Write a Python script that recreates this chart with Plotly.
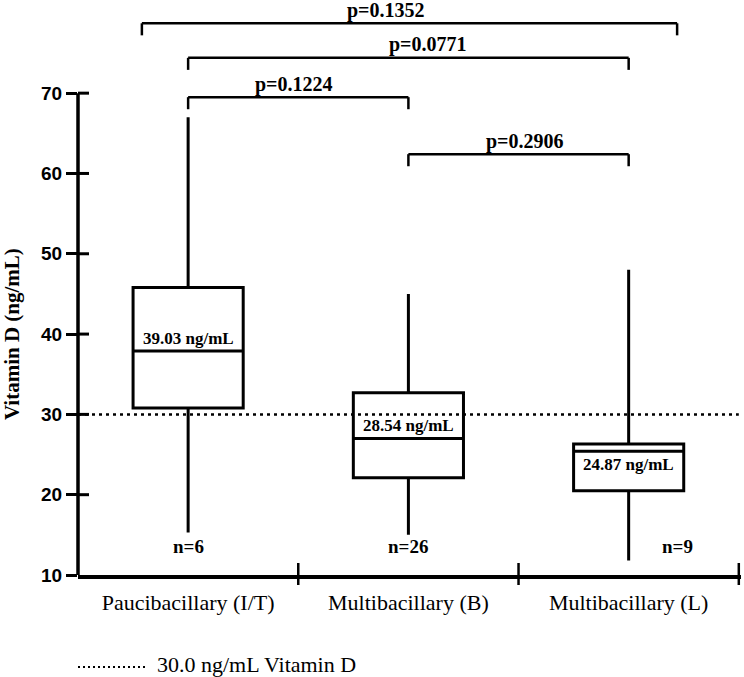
import plotly.graph_objects as go

# ---- data ----
categories = ["Paucibacillary (I/T)", "Multibacillary (B)", "Multibacillary (L)"]
q1 = [30.8, 22.1, 20.5]
medians = [37.9, 27.0, 25.4]
q3 = [45.8, 32.7, 26.3]
lower_whisker = [15.3, 15.0, 11.8]
upper_whisker = [67.0, 45.0, 48.0]
mean_labels = ["39.03 ng/mL", "28.54 ng/mL", "24.87 ng/mL"]
n_labels = ["n=6", "n=26", "n=9"]
threshold = 30.0
y_ticks = [10, 20, 30, 40, 50, 60, 70]

p_labels = ["p=0.1224", "p=0.0771", "p=0.1352", "p=0.2906"]
bracket_from = [0, 0, -0.21, 1]
bracket_to = [1, 2, 2.22, 2]
bracket_level = [69.5, 74.4, 78.7, 62.4]
p_label_x = [0.48, 1.09, 0.9, 1.53]

# ---- style ----
SERIF = "Liberation Serif"
SANS = "Liberation Sans"
BLACK = "black"
xpos = list(range(len(categories)))
XMAX = len(categories) - 0.5 + 0.01
YTOP = 81.6

fig = go.Figure()
fig.add_trace(go.Box(
    x=xpos, q1=q1, median=medians, q3=q3,
    lowerfence=lower_whisker, upperfence=upper_whisker,
    fillcolor="white", line=dict(color=BLACK, width=3),
    width=0.5, whiskerwidth=0, boxpoints=False, showlegend=False,
    hoverinfo="skip",
))

shapes = []
annotations = []

# y-axis line (10..70) and inner tick halves
shapes.append(dict(type="line", xref="paper", yref="y", x0=0, x1=0,
                   y0=y_ticks[0], y1=y_ticks[-1], line=dict(color=BLACK, width=3.5)))
for t in y_ticks[1:]:
    shapes.append(dict(type="line", xref="paper", yref="y", x0=0, x1=11 / 663,
                       y0=t, y1=t, line=dict(color=BLACK, width=3)))

# x-axis boundary ticks crossing the axis
for i in range(1, len(categories) + 1):
    b = i - 0.5
    shapes.append(dict(type="line", xref="x", yref="paper", x0=b, x1=b,
                       y0=-10 / 575, y1=12 / 575, line=dict(color=BLACK, width=2.5)))

# threshold dotted line
shapes.append(dict(type="line", xref="x", yref="y", x0=-0.5, x1=len(categories) - 0.5,
                   y0=threshold, y1=threshold,
                   line=dict(color=BLACK, width=2.5, dash="3px,4px")))

# significance brackets
drop = 1.5
for lab, a, b, lv, lx in zip(p_labels, bracket_from, bracket_to, bracket_level, p_label_x):
    for (x0, y0, x1, y1) in [(a, lv - drop, a, lv), (a, lv, b, lv), (b, lv, b, lv - drop)]:
        shapes.append(dict(type="line", xref="x", yref="y", x0=x0, x1=x1, y0=y0, y1=y1,
                           line=dict(color=BLACK, width=2.5)))
    annotations.append(dict(x=lx, y=lv, xref="x", yref="y", text=lab, showarrow=False,
                            yanchor="middle", yshift=13,
                            font=dict(family=SERIF, size=20, color=BLACK, weight="bold")))

# mean labels
for i, (lab, med) in enumerate(zip(mean_labels, medians)):
    above = i < 2
    annotations.append(dict(x=i, y=med, xref="x", yref="y", text=lab, showarrow=False,
                            yanchor="bottom" if above else "top",
                            yshift=1 if above else -2,
                            font=dict(family=SERIF, size=17, color=BLACK, weight="bold")))

# n labels
n_dx = [0, 0, 0.22]
for i, lab in enumerate(n_labels):
    annotations.append(dict(x=i + n_dx[i], y=13.5, xref="x", yref="y", text=lab,
                            showarrow=False,
                            font=dict(family=SERIF, size=19, color=BLACK, weight="bold")))

# y-axis title
annotations.append(dict(x=-66 / 663, y=40, xref="paper", yref="y", text="Vitamin D (ng/mL)",
                        textangle=-90, showarrow=False, xanchor="center", yanchor="middle",
                        font=dict(family=SERIF, size=21, color=BLACK, weight="bold")))

# legend for dotted line
shapes.append(dict(type="line", xref="paper", yref="paper", x0=0, x1=70 / 663,
                   y0=-92 / 575, y1=-92 / 575,
                   line=dict(color=BLACK, width=2, dash="2px,3px")))
annotations.append(dict(x=77 / 663, y=-89 / 575, xref="paper", yref="paper",
                        text=f"{threshold:.1f} ng/mL Vitamin D", showarrow=False,
                        xanchor="left", yanchor="middle",
                        font=dict(family=SERIF, size=22, color=BLACK)))

fig.update_layout(
    width=744, height=677,
    margin=dict(l=78, r=3, t=0, b=102),
    paper_bgcolor="white", plot_bgcolor="white",
    shapes=shapes, annotations=annotations,
    xaxis=dict(range=[-0.5, XMAX], tickvals=xpos, ticktext=categories,
               showgrid=False, zeroline=False, showline=True, linecolor=BLACK, linewidth=3.5,
               ticks="outside", ticklen=5, tickcolor="rgba(0,0,0,0)",
               tickfont=dict(family=SERIF, size=22, color=BLACK)),
    yaxis=dict(range=[10, YTOP], tickvals=y_ticks, showgrid=False, zeroline=False,
               showline=False, ticks="outside", ticklen=11, tickwidth=3, tickcolor=BLACK,
               tickfont=dict(family=SANS, size=19, color=BLACK, weight="bold")),
)

fig.write_html("out.html")
